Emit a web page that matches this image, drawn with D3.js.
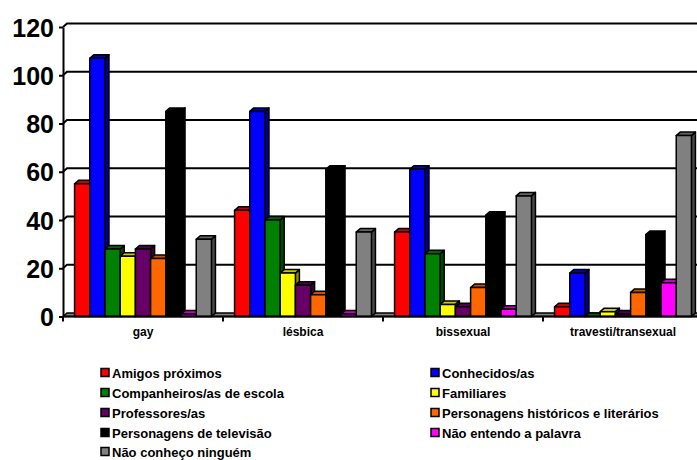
<!DOCTYPE html>
<html>
<head>
<meta charset="utf-8">
<script src="https://cdn.jsdelivr.net/npm/d3@7"></script>
<style>
  body { margin: 0; background: #fff; }
  svg { display: block; font-family: "Liberation Sans", Arial, sans-serif; font-weight: bold; }
</style>
</head>
<body>
<svg id="chart" width="697" height="460"></svg>
<script>
// Categories on the x axis
const categories = ["gay", "lésbica", "bissexual", "travesti/transexual"];

// Series (legend order) and their colours
const seriesNames = [
  "Amigos próximos",
  "Conhecidos/as",
  "Companheiros/as de escola",
  "Familiares",
  "Professores/as",
  "Personagens históricos e literários",
  "Personagens de televisão",
  "Não entendo a palavra",
  "Não conheço ninguém"
];
const seriesColors = ["#FF0000", "#0000FF", "#008000", "#FFFF00", "#660066", "#FF6600", "#000000", "#FF00FF", "#808080"];

// Values per series, one per category
const amigosProximos      = [55, 44, 35, 4];
const conhecidos          = [107, 85, 61, 18];
const companheiros        = [28, 40, 26, 0];
const familiares          = [25, 18, 5, 2];
const professores         = [28, 13, 4, 1];
const personagensHist     = [24, 9, 12, 10];
const personagensTV       = [85, 61, 42, 34];
const naoEntendo          = [1, 1, 3, 14];
const naoConheco          = [32, 35, 50, 75];

const yTicks = [0, 20, 40, 60, 80, 100, 120];

const seriesValues = [amigosProximos, conhecidos, companheiros, familiares, professores,
                      personagensHist, personagensTV, naoEntendo, naoConheco];
const series = seriesNames.map((name, i) => ({ name, color: seriesColors[i], values: seriesValues[i] }));

const svg = d3.select("#chart");

// 3D depth offset of the back wall
const dx = 4, dy = 3.5;

const y = d3.scaleLinear().domain([0, 120]).range([316.5, 27]);
const x0 = d3.scaleBand().domain(categories).range([63, 703]);
const x1 = d3.scaleBand().domain(seriesNames).range([0, x0.bandwidth()]).paddingOuter(0.76);

const shade = (c, k) => d3.color(c).darker(k).formatHex();

// Floor slab
const floorY = y(0);
svg.append("path")
  .attr("d", `M63,${floorY} L${63 + dx},${floorY - dy} L720,${floorY - dy} L716,${floorY} Z`)
  .attr("fill", "#808080").attr("stroke", "#000").attr("stroke-width", 1.5);

// Gridlines on the back wall, joined to the axis by a short diagonal
svg.append("g").selectAll("path")
  .data(yTicks.filter(t => t > 0))
  .join("path")
  .attr("d", t => `M63,${y(t)} L${63 + dx},${y(t) - dy} L720,${y(t) - dy}`)
  .attr("fill", "none").attr("stroke", "#000").attr("stroke-width", 2);

// Bars
const bars = svg.append("g");
categories.forEach((cat, ci) => {
  series.forEach(s => {
    const v = s.values[ci];
    const bx = x0(cat) + x1(s.name);
    const w = x1.bandwidth();
    const top = y(v), base = y(0);
    const g = bars.append("g").attr("stroke", "#000").attr("stroke-width", 1.5).attr("stroke-linejoin", "round");
    // side
    g.append("path")
      .attr("d", `M${bx + w},${top} L${bx + w + dx},${top - dy} L${bx + w + dx},${base - dy} L${bx + w},${base} Z`)
      .attr("fill", shade(s.color, 1.6));
    // top
    g.append("path")
      .attr("d", `M${bx},${top} L${bx + dx},${top - dy} L${bx + w + dx},${top - dy} L${bx + w},${top} Z`)
      .attr("fill", shade(s.color, 0.7));
    // front
    g.append("rect")
      .attr("x", bx).attr("y", top)
      .attr("width", w).attr("height", base - top)
      .attr("fill", s.color);
  });
});

// Y axis
const yAxis = d3.axisLeft(y).tickValues(yTicks).tickSize(4).tickPadding(5).tickSizeOuter(0);
const yg = svg.append("g").attr("transform", "translate(63,0)").call(yAxis);
yg.select(".domain").attr("stroke", "#000").attr("stroke-width", 2);
yg.selectAll(".tick line").attr("stroke", "#000").attr("stroke-width", 2);
yg.selectAll(".tick text")
  .attr("font-size", 25).attr("font-weight", "bold")
  .attr("font-family", '"Liberation Sans", Arial, sans-serif')
  .attr("fill", "#000").attr("dy", "0.36em");

// X axis
const xTickPos = categories.map(c => x0(c)).concat([x0.range()[1]]);
svg.append("line").attr("x1", 63).attr("x2", 720).attr("y1", floorY).attr("y2", floorY)
  .attr("stroke", "#000").attr("stroke-width", 2);
svg.append("g").selectAll("line").data(xTickPos).join("line")
  .attr("x1", d => d).attr("x2", d => d)
  .attr("y1", floorY).attr("y2", floorY + 5)
  .attr("stroke", "#000").attr("stroke-width", 2);
svg.append("g").selectAll("text").data(categories).join("text")
  .attr("x", c => x0(c) + x0.bandwidth() / 2)
  .attr("y", 336)
  .attr("text-anchor", "middle")
  .attr("font-size", 12)
  .text(c => c);

// Legend in two columns
const legend = svg.append("g");
const colX = [101, 431];
const rowY = [373, 393, 413, 433, 452];
series.forEach((s, i) => {
  const cx = colX[i % 2], cy = rowY[Math.floor(i / 2)];
  const item = legend.append("g");
  item.append("rect")
    .attr("x", cx).attr("y", cy - 4.5).attr("width", 8).attr("height", 8)
    .attr("fill", s.color).attr("stroke", "#000").attr("stroke-width", 1.5);
  item.append("text")
    .attr("x", cx + 11).attr("y", cy).attr("dy", "0.35em")
    .attr("font-size", 13)
    .text(s.name);
});
</script>
</body>
</html>
